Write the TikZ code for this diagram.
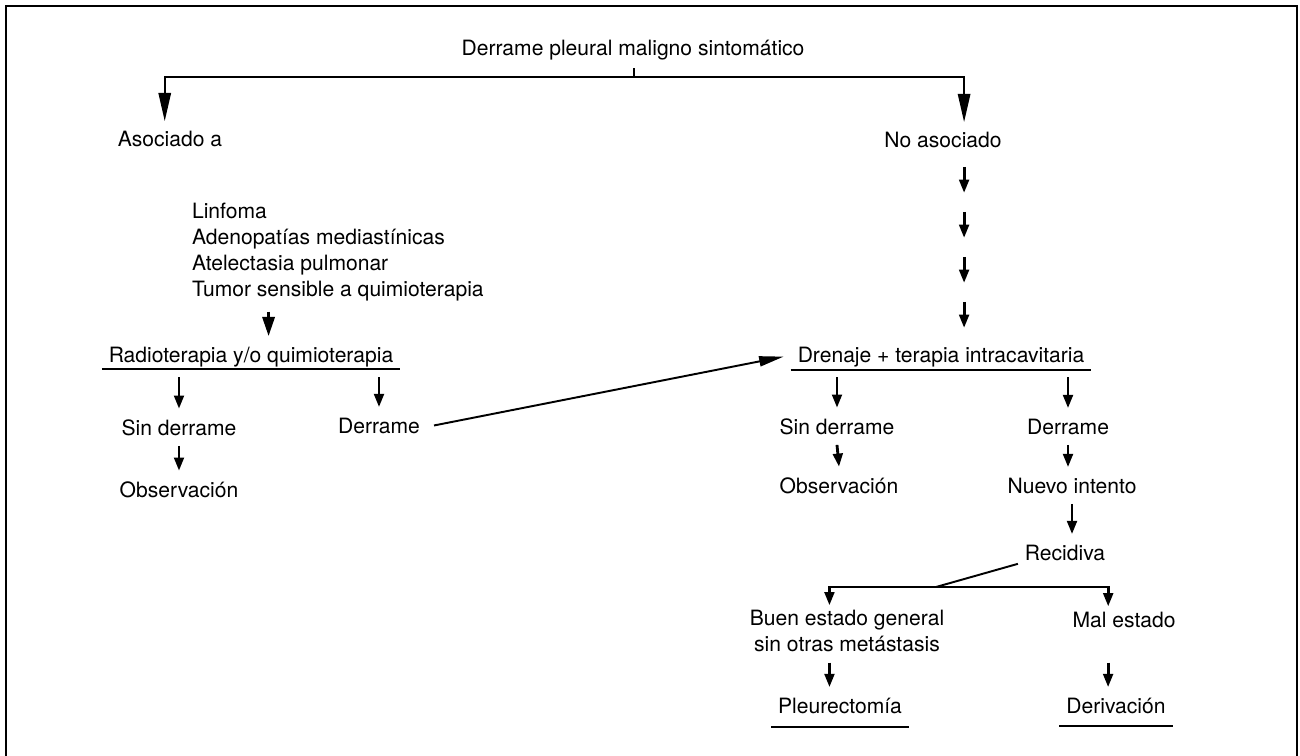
\documentclass[tikz,border=0pt]{standalone}
\usepackage{fontspec}
\setmainfont{TeX Gyre Heros}
\usetikzlibrary{arrows.meta, positioning}
\tikzset{
  label node/.style={
    inner sep=0pt, outer xsep=4pt, outer ysep=6pt,
    font=\fontsize{12}{14.7}\selectfont
  },
  line node/.style={label node, anchor=base},
  block node/.style={label node, anchor=north, align=#1},
  rule/.style={line width=1.1pt},
  arrow/.style={-{Triangle[length=7.5pt, width=5.5pt]}, line width=1.6pt},
  mid arrow/.style={-{Triangle[length=11pt, width=7pt]}, line width=1.6pt},
  big arrow/.style={-{Triangle[length=16pt, width=7pt]}, line width=1.1pt},
  long arrow/.style={-{Triangle[length=14pt, width=5.7pt]}, line width=1.1pt},
}

\begin{document}
\begin{tikzpicture}[x=0.02cm, y=-0.02cm]

  \useasboundingbox (0,0) rectangle (1300,756);
  \draw[rule] (6,756) -- (6,6) -- (1297,6) -- (1297,756);

  % ── Top split ─────────────────────────────────────────────────────────────
  \node[line node] (title) at (633,56) {Derrame pleural maligno sintomático};
  \coordinate (split) at (634,77);

  \node[line node] (asoc)   at (170,147) {Asociado a};
  \node[line node] (noasoc) at (943,148) {No asociado};

  % ── Left branch ───────────────────────────────────────────────────────────
  \node[label node, anchor=north west, align=left] (causes) at (185,193)
    {Linfoma\\Adenopatías mediastínicas\\Atelectasia pulmonar\\Tumor sensible a quimioterapia};

  \node[line node] (radio) at (251,362) {Radioterapia y/o quimioterapia};
  \node[line node] (sinL)  at (179,435) {Sin derrame};
  \node[line node] (derrL) at (379,433) {Derrame};
  \node[line node] (obsL)  at (179,497) {Observación};

  % ── Right branch ──────────────────────────────────────────────────────────
  \node[line node] (drenaje) at (941,362) {Drenaje + terapia intracavitaria};
  \node[line node] (sinR)    at (837,434) {Sin derrame};
  \node[line node] (derrR)   at (1068,434) {Derrame};
  \node[line node] (obsR)    at (839,493) {Observación};
  \node[line node] (nuevo)   at (1072,493) {Nuevo intento};
  \node[line node] (recid)   at (1065,560) {Recidiva};
  \coordinate (fork) at (936,587);

  \node[block node=center] (buen) at (847,600) {Buen estado general\\sin otras metástasis};
  \node[line node] (mal)   at (1124,627) {Mal estado};
  \node[line node] (pleur) at (840,713) {Pleurectomía};
  \node[line node] (deriv) at (1116,713) {Derivación};

  % ── Underlines ────────────────────────────────────────────────────────────
  \draw[rule] ([yshift=-4pt]radio.base west)   -- ([yshift=-4pt]radio.base east);
  \draw[rule] ([yshift=-4.5pt]drenaje.base west) -- ([yshift=-4.5pt]drenaje.base east);
  \draw[rule] ([yshift=-8pt]pleur.base west)   -- ([yshift=-8pt]pleur.base east);
  \draw[rule] ([yshift=-7.5pt]deriv.base west) -- ([yshift=-7.5pt]deriv.base east);

  % ── Arrows ────────────────────────────────────────────────────────────────
  \draw[rule] (split) -- ++(0,-9);
  \draw[big arrow] (split) -| ([xshift=-3pt]asoc.north);
  \draw[big arrow] (split) -| ([xshift=12pt]noasoc.north);

  \coordinate (chain) at ([xshift=12pt]noasoc.south);
  \foreach \i in {0,...,3}
    \draw[arrow] (chain) ++(0,8+45*\i) -- ++(0,26);

  \draw[mid arrow] ([xshift=10pt]radio.north |- causes.south) -- ([xshift=10pt]radio.north);
  \draw[arrow] (radio.south -| sinL.north) -- (sinL.north);
  \draw[arrow] (radio.south -| derrL.north) -- (derrL.north);
  \draw[arrow] (sinL.south) -- (obsL.north);
  \draw[long arrow] ([xshift=4pt]derrL.east) -- ([xshift=-4pt]drenaje.west);

  \draw[arrow] (drenaje.south -| sinR.north) -- (sinR.north);
  \draw[arrow] (drenaje.south -| derrR.north) -- (derrR.north);
  \draw[arrow] (sinR.south) -- (obsR.north);
  \draw[arrow] (derrR.south) -- (nuevo.north -| derrR.south);
  \draw[arrow] (nuevo.south) -- (nuevo.south |- recid.north);

  \draw[rule] ([yshift=4pt]recid.south west) -- (fork);
  \draw[arrow] (fork) -| ([xshift=-10pt, yshift=-3pt]buen.north);
  \draw[arrow] (fork) -| ([xshift=-9pt, yshift=-3pt]mal.north);
  \draw[arrow] ([xshift=-6pt]pleur.north |- buen.south) -- ([xshift=-6pt]pleur.north);
  \draw[arrow] ([xshift=-4.5pt]deriv.north |- buen.south) -- ([xshift=-4.5pt]deriv.north);

\end{tikzpicture}
\end{document}
